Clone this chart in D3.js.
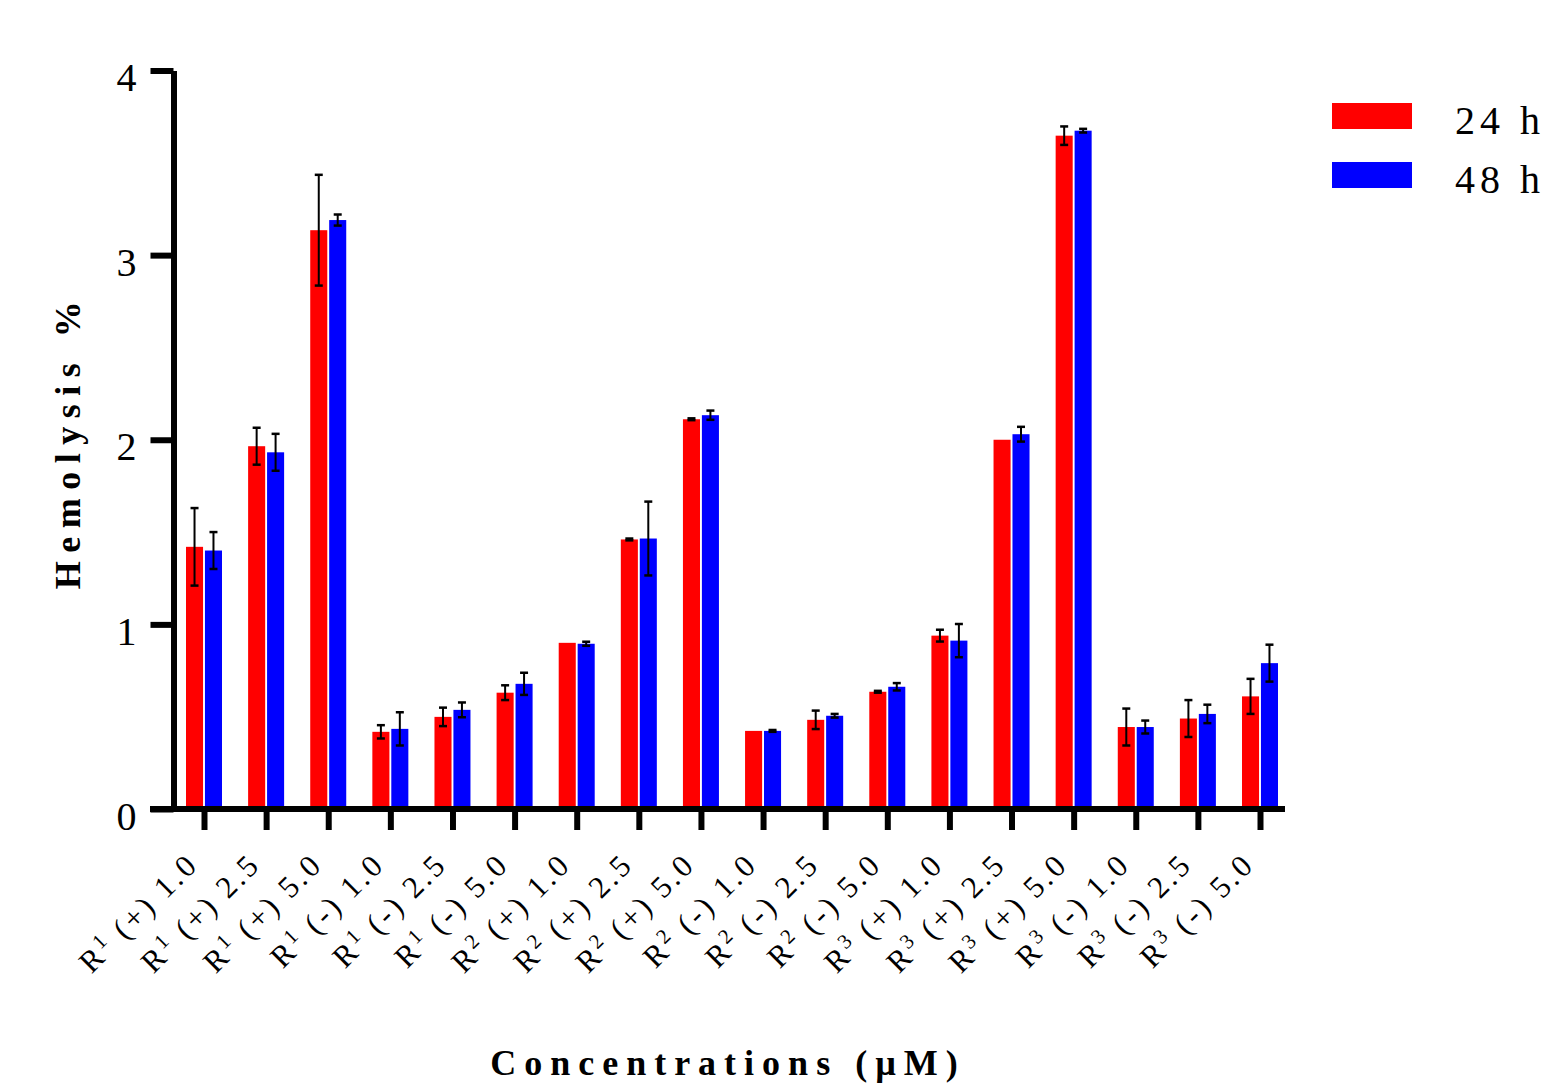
<!DOCTYPE html>
<html>
<head>
<meta charset="utf-8">
<script src="https://cdn.jsdelivr.net/npm/d3@7"></script>
<style>
body { margin: 0; background: #fff; }
text { font-family: "Liberation Serif", "Times New Roman", serif; fill: #000; }
</style>
</head>
<body>
<div id="chart-area"></div>
<script>
// categories: R, subscript digit, rest
var categories = ["R1 (+) 1.0", "R1 (+) 2.5", "R1 (+) 5.0", "R1 (-) 1.0", "R1 (-) 2.5", "R1 (-) 5.0",
                  "R2 (+) 1.0", "R2 (+) 2.5", "R2 (+) 5.0", "R2 (-) 1.0", "R2 (-) 2.5", "R2 (-) 5.0",
                  "R3 (+) 1.0", "R3 (+) 2.5", "R3 (+) 5.0", "R3 (-) 1.0", "R3 (-) 2.5", "R3 (-) 5.0"]
var series = ["24 h", "48 h"]
var h24 = [1.42, 1.965, 3.135, 0.418, 0.499, 0.63, 0.90, 1.46, 2.111, 0.423, 0.483, 0.635, 0.939, 2.0, 3.647, 0.444, 0.49, 0.61]
var h24err = [0.21, 0.10, 0.30, 0.036, 0.05, 0.04, 0, 0.005, 0.005, 0, 0.05, 0.005, 0.032, 0, 0.05, 0.10, 0.10, 0.095]
var h48 = [1.40, 1.932, 3.19, 0.434, 0.537, 0.678, 0.895, 1.465, 2.133, 0.423, 0.505, 0.662, 0.912, 2.03, 3.674, 0.444, 0.515, 0.79]
var h48err = [0.10, 0.10, 0.03, 0.09, 0.04, 0.06, 0.011, 0.20, 0.025, 0.005, 0.01, 0.02, 0.09, 0.04, 0.01, 0.035, 0.05, 0.10]
var yTicks = [0, 1, 2, 3, 4]
var colors = ["#ff0000", "#0000ff"]

var cw = 1545
var ch = 1089

var svg = d3.select("#chart-area").append("svg")
    .attr("width", cw)
    .attr("height", ch)

var x = d3.scalePoint()
    .domain(categories)
    .range([204, 1260])

var xs = d3.scaleBand()
    .domain(series)
    .range([-18, 18])
    .paddingInner(0.1)

var y = d3.scaleLinear()
    .domain([0, 4])
    .range([809, 70.5])

var color = d3.scaleOrdinal().domain(series).range(colors)

var data = []
categories.forEach((c, i) => {
    data.push({cat: c, s: series[0], v: h24[i], e: h24err[i]})
    data.push({cat: c, s: series[1], v: h48[i], e: h48err[i]})
})

// bars
svg.append("g").selectAll("rect")
    .data(data)
    .enter().append("rect")
    .attr("x", d => x(d.cat) + xs(d.s))
    .attr("width", xs.bandwidth())
    .attr("y", d => y(d.v))
    .attr("height", d => y(0) - y(d.v))
    .attr("fill", d => color(d.s))

// error bars
var eb = svg.append("g").selectAll("g")
    .data(data.filter(d => d.e > 0))
    .enter().append("g")
    .attr("transform", d => "translate(" + (x(d.cat) + xs(d.s) + xs.bandwidth() / 2) + ",0)")

eb.append("line")
    .attr("y1", d => y(d.v + d.e))
    .attr("y2", d => y(d.v - d.e))
    .attr("stroke", "#000")
    .attr("stroke-width", 2)

eb.selectAll(".cap")
    .data(d => [d.v + d.e, d.v - d.e])
    .enter().append("line")
    .attr("class", "cap")
    .attr("x1", -4)
    .attr("x2", 4)
    .attr("y1", d => y(d))
    .attr("y2", d => y(d))
    .attr("stroke", "#000")
    .attr("stroke-width", 2.5)

// y axis
var leftAxis = d3.axisLeft(y)
    .tickValues(yTicks)
    .tickSize(21)
    .tickSizeOuter(0)
    .tickPadding(16)
    .tickFormat(d3.format("d"))

var yAxisGroup = svg.append("g")
    .attr("transform", "translate(173.5,0)")
    .call(leftAxis)
yAxisGroup.select(".domain").attr("stroke", "#000").attr("stroke-width", 6)
yAxisGroup.selectAll(".tick line").attr("stroke", "#000").attr("stroke-width", 6).attr("x2", -23)
yAxisGroup.selectAll(".tick text")
    .attr("font-size", "40px")
    .attr("font-family", "Liberation Serif")
    .attr("dy", "0.5em")
    .attr("fill", "#000")

// x axis
svg.append("line")
    .attr("x1", 150)
    .attr("x2", 1285)
    .attr("y1", y(0))
    .attr("y2", y(0))
    .attr("stroke", "#000")
    .attr("stroke-width", 6)

var bottomAxis = d3.axisBottom(x)
    .tickSize(21)
    .tickSizeOuter(0)
    .tickFormat("")

var xAxisGroup = svg.append("g")
    .attr("transform", "translate(0," + y(0) + ")")
    .call(bottomAxis)
xAxisGroup.select(".domain").remove()
xAxisGroup.selectAll(".tick line").attr("stroke", "#000").attr("stroke-width", 6)

var labels = svg.append("g").selectAll("text")
    .data(categories)
    .enter().append("text")
    .attr("transform", d => "translate(" + (x(d) - 4) + ",866) rotate(-45)")
    .attr("text-anchor", "end")
    .attr("font-size", "31px")
    .attr("letter-spacing", "3px")

labels.append("tspan").text(d => d[0])
labels.append("tspan").text(d => d[1]).attr("font-size", "21px").attr("dy", -11)
labels.append("tspan").text(d => d.slice(2)).attr("dy", 11)

// axis titles
svg.append("text")
    .attr("transform", "translate(80,441) rotate(-90)")
    .attr("text-anchor", "middle")
    .attr("font-size", "36px")
    .attr("font-weight", "bold")
    .attr("letter-spacing", "8.5px")
    .text("Hemolysis %")

svg.append("text")
    .attr("x", 728)
    .attr("y", 1075)
    .attr("text-anchor", "middle")
    .attr("font-size", "36px")
    .attr("font-weight", "bold")
    .attr("letter-spacing", "8px")
    .text("Concentrations (µM)")

// legend
var legend = svg.append("g").selectAll("g")
    .data(series)
    .enter().append("g")
    .attr("transform", (d, i) => "translate(1332," + (103 + i * 59) + ")")

legend.append("rect")
    .attr("width", 80)
    .attr("height", 26)
    .attr("fill", d => color(d))

legend.append("text")
    .attr("x", 123)
    .attr("y", 31)
    .attr("font-size", "40px")
    .attr("letter-spacing", "5px")
    .text(d => d)
</script>
</body>
</html>
